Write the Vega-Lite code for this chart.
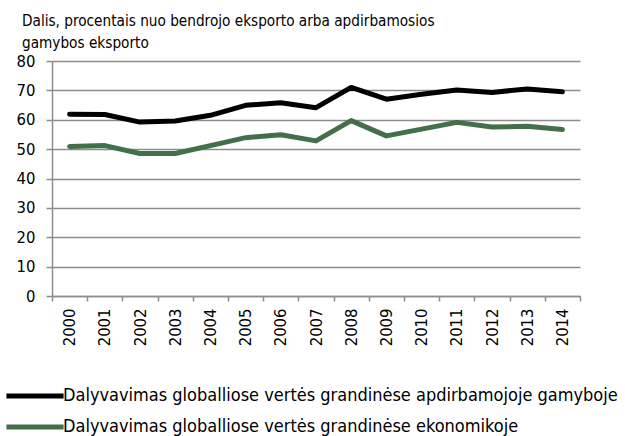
{
  "$schema": "https://vega.github.io/schema/vega-lite/v6.json",
  "autosize": {"type": "none"},
  "width": 528,
  "height": 235,
  "padding": {"left": 52, "top": 61, "right": 45, "bottom": 140},
  "background": "white",
  "config": {
    "font": "DejaVu Sans Condensed",
    "view": {"stroke": null}
  },
  "title": {
    "text": ["Dalis, procentais nuo bendrojo eksporto arba apdirbamosios", "gamybos eksporto"],
    "anchor": "start",
    "frame": "group",
    "dx": -30,
    "dy": 21,
    "offset": 8,
    "fontSize": 15.2,
    "fontWeight": "normal",
    "color": "#000000",
    "lineHeight": 22,
    "baseline": "bottom"
  },
  "data": {
    "values": [
      {"year": "2000", "series": "Dalyvavimas globalliose vertės grandinėse apdirbamojoje gamyboje", "value": 61.9},
      {"year": "2001", "series": "Dalyvavimas globalliose vertės grandinėse apdirbamojoje gamyboje", "value": 61.8},
      {"year": "2002", "series": "Dalyvavimas globalliose vertės grandinėse apdirbamojoje gamyboje", "value": 59.2},
      {"year": "2003", "series": "Dalyvavimas globalliose vertės grandinėse apdirbamojoje gamyboje", "value": 59.6},
      {"year": "2004", "series": "Dalyvavimas globalliose vertės grandinėse apdirbamojoje gamyboje", "value": 61.5},
      {"year": "2005", "series": "Dalyvavimas globalliose vertės grandinėse apdirbamojoje gamyboje", "value": 64.9},
      {"year": "2006", "series": "Dalyvavimas globalliose vertės grandinėse apdirbamojoje gamyboje", "value": 65.8},
      {"year": "2007", "series": "Dalyvavimas globalliose vertės grandinėse apdirbamojoje gamyboje", "value": 64.1},
      {"year": "2008", "series": "Dalyvavimas globalliose vertės grandinėse apdirbamojoje gamyboje", "value": 71.0},
      {"year": "2009", "series": "Dalyvavimas globalliose vertės grandinėse apdirbamojoje gamyboje", "value": 67.0},
      {"year": "2010", "series": "Dalyvavimas globalliose vertės grandinėse apdirbamojoje gamyboje", "value": 68.7},
      {"year": "2011", "series": "Dalyvavimas globalliose vertės grandinėse apdirbamojoje gamyboje", "value": 70.1},
      {"year": "2012", "series": "Dalyvavimas globalliose vertės grandinėse apdirbamojoje gamyboje", "value": 69.3},
      {"year": "2013", "series": "Dalyvavimas globalliose vertės grandinėse apdirbamojoje gamyboje", "value": 70.5},
      {"year": "2014", "series": "Dalyvavimas globalliose vertės grandinėse apdirbamojoje gamyboje", "value": 69.5},
      {"year": "2000", "series": "Dalyvavimas globalliose vertės grandinėse ekonomikoje", "value": 50.9},
      {"year": "2001", "series": "Dalyvavimas globalliose vertės grandinėse ekonomikoje", "value": 51.2},
      {"year": "2002", "series": "Dalyvavimas globalliose vertės grandinėse ekonomikoje", "value": 48.5},
      {"year": "2003", "series": "Dalyvavimas globalliose vertės grandinėse ekonomikoje", "value": 48.5},
      {"year": "2004", "series": "Dalyvavimas globalliose vertės grandinėse ekonomikoje", "value": 51.2},
      {"year": "2005", "series": "Dalyvavimas globalliose vertės grandinėse ekonomikoje", "value": 53.9},
      {"year": "2006", "series": "Dalyvavimas globalliose vertės grandinėse ekonomikoje", "value": 54.9},
      {"year": "2007", "series": "Dalyvavimas globalliose vertės grandinėse ekonomikoje", "value": 52.8},
      {"year": "2008", "series": "Dalyvavimas globalliose vertės grandinėse ekonomikoje", "value": 59.7},
      {"year": "2009", "series": "Dalyvavimas globalliose vertės grandinėse ekonomikoje", "value": 54.5},
      {"year": "2010", "series": "Dalyvavimas globalliose vertės grandinėse ekonomikoje", "value": 56.8},
      {"year": "2011", "series": "Dalyvavimas globalliose vertės grandinėse ekonomikoje", "value": 59.1},
      {"year": "2012", "series": "Dalyvavimas globalliose vertės grandinėse ekonomikoje", "value": 57.5},
      {"year": "2013", "series": "Dalyvavimas globalliose vertės grandinėse ekonomikoje", "value": 57.8},
      {"year": "2014", "series": "Dalyvavimas globalliose vertės grandinėse ekonomikoje", "value": 56.7}
    ]
  },
  "mark": {"type": "line", "strokeWidth": 5, "strokeJoin": "round", "strokeCap": "round"},
  "encoding": {
    "x": {
      "field": "year",
      "type": "ordinal",
      "bandPosition": 0.5,
      "scale": {"type": "band", "paddingInner": 0, "paddingOuter": 0},
      "axis": {
        "title": null,
        "labelAngle": -90,
        "labelFontSize": 16.5,
        "labelColor": "#000000",
        "labelPadding": 7,
        "labelBaseline": "middle",
        "labelAlign": "right",
        "tickBand": "extent",
        "tickSize": 5,
        "tickColor": "#8c8c8c",
        "domainColor": "#8c8c8c",
        "domainWidth": 1.5,
        "tickWidth": 1.5,
        "grid": false
      }
    },
    "y": {
      "field": "value",
      "type": "quantitative",
      "scale": {"domain": [0, 80], "nice": false},
      "axis": {
        "title": null,
        "values": [0, 10, 20, 30, 40, 50, 60, 70, 80],
        "labelFontSize": 16.5,
        "labelColor": "#000000",
        "labelPadding": 11,
        "tickSize": 6,
        "tickColor": "#8c8c8c",
        "tickWidth": 1.5,
        "domainColor": "#8c8c8c",
        "domainWidth": 1.5,
        "grid": true,
        "gridColor": "#8c8c8c",
        "gridWidth": 1.5
      }
    },
    "color": {
      "field": "series",
      "type": "nominal",
      "sort": ["Dalyvavimas globalliose vertės grandinėse apdirbamojoje gamyboje", "Dalyvavimas globalliose vertės grandinėse ekonomikoje"],
      "scale": {
        "domain": ["Dalyvavimas globalliose vertės grandinėse apdirbamojoje gamyboje", "Dalyvavimas globalliose vertės grandinėse ekonomikoje"],
        "range": ["#000000", "#436f49"]
      },
      "legend": {
        "title": null,
        "orient": "none",
        "legendX": -34,
        "legendY": 318,
        "symbolType": "M-1.97,0H1.97",
        "symbolSize": 841,
        "symbolStrokeWidth": 5,
        "labelFontSize": 18,
        "labelColor": "#000000",
        "labelOffset": 11,
        "labelLimit": 700,
        "rowPadding": 4
      }
    }
  }
}
